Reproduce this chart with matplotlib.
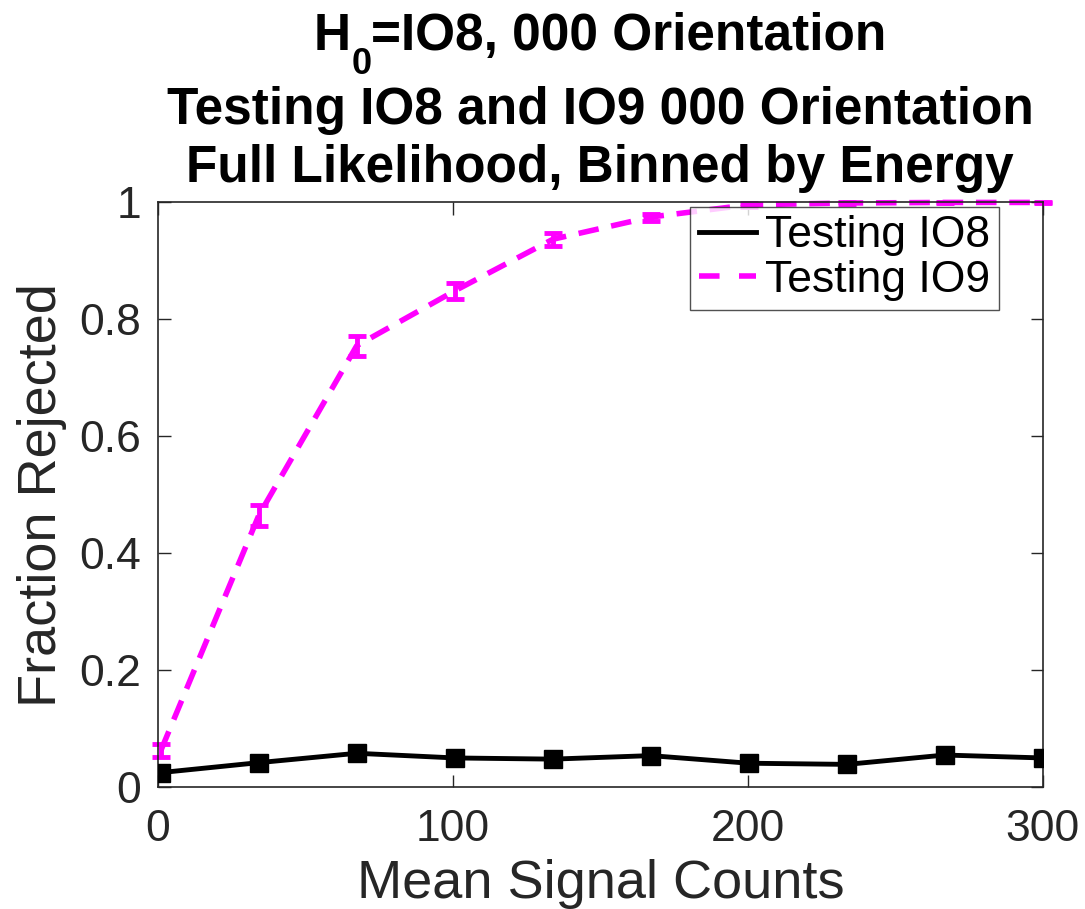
import numpy as np
import matplotlib.pyplot as plt
from matplotlib.lines import Line2D

plt.rcParams['font.family'] = ['Liberation Sans', 'DejaVu Sans']

# data
signalCounts = [1, 34.2, 67.4, 100.7, 133.9, 167.1, 200.3, 233.6, 266.8, 300]
fracIO8 = [0.025, 0.042, 0.058, 0.050, 0.048, 0.054, 0.041, 0.039, 0.055, 0.050]
errIO8 = [0.003, 0.003, 0.003, 0.003, 0.003, 0.003, 0.003, 0.003, 0.003, 0.003]
fracIO9 = [0.063, 0.465, 0.755, 0.849, 0.937, 0.975, 0.996, 0.999, 1.0, 1.0]
errIO9 = [0.011, 0.018, 0.017, 0.014, 0.011, 0.006, 0.003, 0.002, 0.001, 0.001]
legendLabels = ['Testing IO8', 'Testing IO9']

axisColor = '#262626'
magenta = '#ff00ff'
W, H = 1085, 909

fig = plt.figure(figsize=(10.85, 9.09), dpi=100)
ax = fig.add_axes([0.1456, 0.134, 0.8154, 0.6433])

ax.errorbar(signalCounts, fracIO9, yerr=errIO9, color=magenta, linestyle='--',
            dashes=(3.7, 2.3), linewidth=4, capsize=6.5, elinewidth=3.5, capthick=3.5,
            clip_on=False, zorder=2)
ax.errorbar(signalCounts, fracIO8, yerr=errIO8, color='black', linestyle='-',
            linewidth=3.5, marker='s', markersize=13, capsize=0, elinewidth=3,
            zorder=3)

ax.set_xlim(0, 300)
ax.set_ylim(0, 1)
ax.set_xticks([0, 100, 200, 300])
ax.set_yticks([0, 0.2, 0.4, 0.6, 0.8, 1])
ax.set_yticklabels(['0', '0.2', '0.4', '0.6', '0.8', '1'])
ax.tick_params(direction='in', top=True, right=True, length=9, width=1,
               labelsize=32, colors=axisColor)
ax.tick_params(axis='x', pad=16)
ax.tick_params(axis='y', pad=12)
for s in ax.spines.values():
  s.set_color(axisColor)
  s.set_linewidth(1.2)

ax.set_xlabel('Mean Signal Counts', fontsize=39, color=axisColor, labelpad=6)
ax.set_ylabel('Fraction Rejected', fontsize=39, color=axisColor, labelpad=9)

# title, three lines placed by hand, first one with a low subscript
centerX = (ax.get_position().x0 + ax.get_position().x1) / 2
titleSize = 37
renderer = fig.canvas.get_renderer()
partH = fig.text(0, 0, 'H', fontsize=titleSize, fontweight='bold', va='baseline')
partSub = fig.text(0, 0, '0', fontsize=26, fontweight='bold', va='baseline')
partRest = fig.text(0, 0, '=IO8, 000 Orientation', fontsize=titleSize,
                    fontweight='bold', va='baseline')
widths = [p.get_window_extent(renderer).width / W for p in (partH, partSub, partRest)]
startX = centerX - sum(widths) / 2
line1Y = 1 - 50 / H
partH.set_position((startX, line1Y))
partSub.set_position((startX + widths[0], 1 - 74 / H))
partRest.set_position((startX + widths[0] + widths[1], line1Y))
fig.text(centerX, 1 - 124 / H, 'Testing IO8 and IO9 000 Orientation', fontsize=titleSize,
         fontweight='bold', ha='center', va='baseline')
fig.text(centerX, 1 - 182 / H, 'Full Likelihood, Binned by Energy', fontsize=titleSize,
         fontweight='bold', ha='center', va='baseline')

handles = [Line2D([], [], color='black', linewidth=3.5),
           Line2D([], [], color=magenta, linewidth=4, linestyle='--', dashes=(3.7, 3.5))]
leg = ax.legend(handles, legendLabels, loc='upper right', bbox_to_anchor=(0.951, 0.993),
                fontsize=32, frameon=True, fancybox=False, edgecolor=axisColor,
                handlelength=1.3, handletextpad=0.2, borderpad=0.2,
                labelspacing=0.08, borderaxespad=0.0)
leg.get_frame().set_linewidth(1.0)

fig.savefig('out.png', dpi=100)
